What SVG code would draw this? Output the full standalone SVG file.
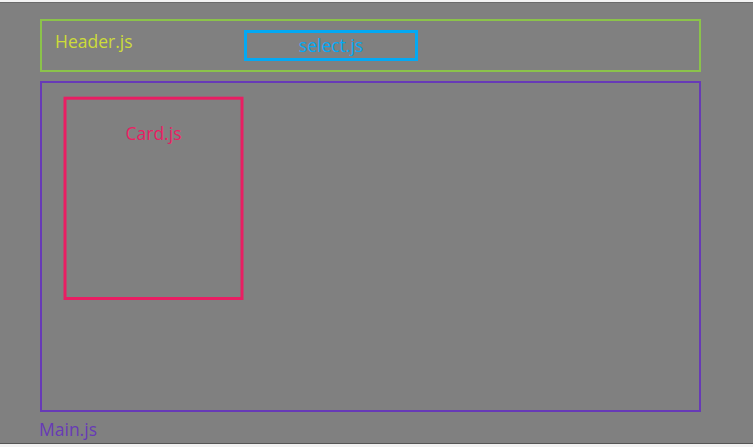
<svg xmlns="http://www.w3.org/2000/svg" width="753" height="447" viewBox="0 0 753 447">
<style>
.lbl{font-family:"Open Sans","Noto Sans","Liberation Sans",sans-serif;font-size:17.5px}
.box{fill:none}
</style>
<rect x="0" y="0" width="753" height="447" fill="#f2f2f2"/>
<rect x="0" y="2.5" width="753" height="441.5" fill="#808080"/>
<line x1="0" y1="2.5" x2="753" y2="2.5" stroke="#6a6a6a" stroke-width="1"/>
<line x1="0" y1="443.5" x2="753" y2="443.5" stroke="#555" stroke-width="1"/>
<g id="main">
<rect class="box" x="41" y="82" width="659" height="329" stroke="#673ab7" stroke-width="2"/>
<text class="lbl" x="39" y="436" fill="#673ab7">Main.js</text>
</g>
<g id="header">
<rect class="box" x="41" y="20" width="659" height="51" stroke="#8bc34a" stroke-width="2"/>
<text class="lbl" x="55" y="47.5" fill="#cddc39">Header.js</text>
</g>
<g id="select">
<rect class="box" x="245.5" y="31.5" width="171" height="28" stroke="#03a9f4" stroke-width="3"/>
<text class="lbl" x="331" y="52" text-anchor="middle" fill="#03a9f4">select.js</text>
</g>
<g id="card">
<rect class="box" x="65" y="98.2" width="177" height="200.3" stroke="#e91e63" stroke-width="3"/>
<text class="lbl" x="153.5" y="140" text-anchor="middle" fill="#e91e63">Card.js</text>
</g>
<g id="connectors"></g>
</svg>
